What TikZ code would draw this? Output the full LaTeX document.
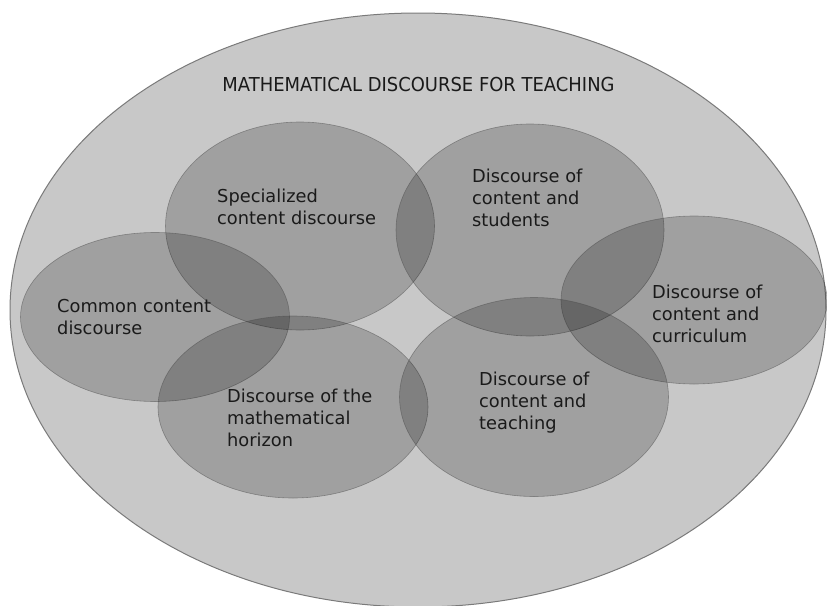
\documentclass[tikz,border=0pt]{standalone}
\usepackage{fontspec}
\setmainfont{DejaVu Sans}
\usepackage{graphicx}
\usetikzlibrary{shapes.geometric}
\definecolor{outerfill}{HTML}{C8C8C8}
\definecolor{outerline}{HTML}{7A7A7A}
\definecolor{txt}{HTML}{1A1A1A}
\tikzset{
  part/.style={ellipse, inner sep=0pt, outer sep=0pt, fill=black, fill opacity=0.2,
    draw=black!70, draw opacity=0.5, line width=0.6pt},
  lbl/.style={anchor=north west, align=left, inner sep=0pt, text=txt,
    font=\fontsize{17.8pt}{22pt}\selectfont}
}

\begin{document}
\begin{tikzpicture}[x=1pt, y=-1pt]
\useasboundingbox (0,0) rectangle (827,605);

\node[ellipse, inner sep=0pt, fill=outerfill, draw=outerline, line width=1pt,
  minimum width=816pt, minimum height=594pt] (mdt) at (418,310) {};
\node[text=txt, inner sep=0pt] (title) at (418.5,85)
  {\scalebox{0.935}[1]{\fontsize{19.2pt}{22pt}\selectfont MATHEMATICAL DISCOURSE FOR TEACHING}};

\node[part, minimum width=269pt, minimum height=208pt] (scd) at (300,226) {};
\node[part, minimum width=268pt, minimum height=212pt] (dcs) at (530,230) {};
\node[part, minimum width=269pt, minimum height=169pt] (ccd) at (155,317) {};
\node[part, minimum width=266pt, minimum height=168pt] (dcc) at (694,300) {};
\node[part, minimum width=270pt, minimum height=182pt] (dmh) at (293,407) {};
\node[part, minimum width=269pt, minimum height=199pt] (dct) at (534,397) {};

\node[lbl] (scdtext) at (217,189) {Specialized\\content discourse};
\node[lbl] (dcstext) at (472,169) {Discourse of\\content and\\students};
\node[lbl] (ccdtext) at (57,299) {Common content\\discourse};
\node[lbl] (dcctext) at (652,285) {Discourse of\\content and\\curriculum};
\node[lbl] (dmhtext) at (227,389) {Discourse of the\\mathematical\\horizon};
\node[lbl] (dcttext) at (479,372) {Discourse of\\content and\\teaching};
\end{tikzpicture}
\end{document}
